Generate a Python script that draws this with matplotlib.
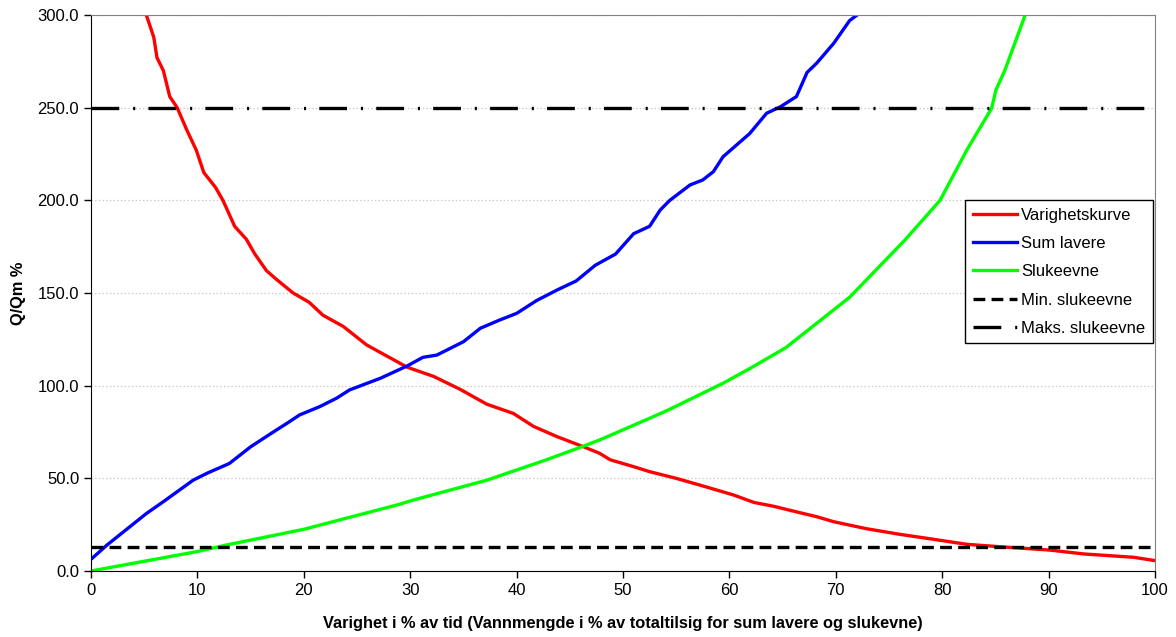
import matplotlib
matplotlib.use("Agg")
import matplotlib.pyplot as plt
from matplotlib.ticker import FormatStrFormatter

plt.rcParams["font.family"] = ["Liberation Sans", "DejaVu Sans"]
plt.rcParams["lines.scale_dashes"] = False

# ---- data -----------------------------------------------------------------
red_x = [5.2, 5.9, 6.2, 6.8, 7.4, 8.1, 9.0, 9.9, 10.6, 11.7, 12.4, 13.5, 14.6,
         15.4, 16.5, 17.5, 19.0, 20.5, 21.8, 23.7, 25.9, 27.8, 29.7, 32.2, 34.7,
         37.2, 39.7, 41.6, 43.8, 46.3, 47.8, 48.8, 51.0, 52.5, 55.0, 57.2, 60.4,
         62.3, 64.1, 66.6, 68.2, 69.8, 72.9, 76.0, 79.2, 82.3, 85.4, 90.1, 93.3,
         98.0, 100.0]
red_y = [300, 288, 277, 270, 256, 250, 238, 227, 215, 207, 200, 186, 179,
         171, 162, 157, 150, 145, 138, 132, 122, 116, 110, 105, 98,
         90, 85, 78, 72.5, 67, 63.5, 60, 56.3, 53.6, 50, 46.4, 41,
         37, 35, 31.5, 29.3, 26.6, 22.8, 19.8, 17.1, 14.4, 13.1, 11.3, 9.2,
         7.4, 5.6]

blue_x = [0, 1.5, 5.2, 6.8, 9.6, 11.0, 13.0, 15.0, 17.0, 18.5, 19.6, 21.5,
          23.1, 24.3, 27.2, 29.7, 31.2, 32.5, 35.0, 36.6, 38.4, 40.0, 41.9,
          43.8, 45.6, 47.4, 49.3, 51.0, 52.5, 53.5, 54.4, 56.3, 57.5, 58.5,
          59.4, 60.7, 61.9, 63.5, 64.8, 66.3, 67.3, 68.2, 69.8, 71.3, 72.0]
blue_y = [6.3, 14, 31, 37.4, 49, 53, 58, 67, 74.5, 80, 84.2, 88.7,
          93.3, 97.7, 104, 110.6, 115.3, 116.5, 123.7, 131, 135.4, 139, 146,
          151.6, 156.5, 165, 171, 182, 186, 194.8, 200, 208.3, 211, 215.5,
          223.5, 230, 236, 247, 250.5, 256, 269, 274, 284.7, 297, 300]

green_x = [0, 9.9, 12.7, 20.0, 29.0, 30.3, 37.2, 42.8, 46.3, 47.8, 52.5, 54.3,
           59.4, 62.0, 65.3, 71.3, 76.5, 79.8, 82.3, 84.65, 85.05, 85.9, 87.8]
green_y = [0, 10.4, 14, 22.5, 36, 38.3, 49, 60, 67.4, 70.7, 82.4, 87,
           101.3, 109.5, 120.5, 147.7, 178.6, 200, 227, 249.7, 259.5, 270.3, 300]

min_sluk = 13.2
maks_sluk = 250.0

labels = ["Varighetskurve", "Sum lavere", "Slukeevne",
          "Min. slukeevne", "Maks. slukeevne"]

# ---- figure ---------------------------------------------------------------
fig = plt.figure(figsize=(11.76, 6.37), dpi=100)
ax = fig.add_axes([91 / 1176, 1 - 571 / 637, 1064 / 1176, 556 / 637])

lw = 2.4
ax.plot(red_x, red_y, color="#ff0000", lw=lw, label=labels[0])
ax.plot(blue_x, blue_y, color="#0000ff", lw=lw, label=labels[1])
ax.plot(green_x, green_y, color="#00ff00", lw=lw, label=labels[2])
ax.axhline(min_sluk, color="black", lw=2.4, dashes=(8.5, 4.5), label=labels[3])
ax.axhline(maks_sluk, color="black", lw=2.4, dashes=(20, 10, 1.5, 9.5),
           label=labels[4])

ax.set_xlim(0, 100)
ax.set_ylim(0, 300)
ax.set_xticks(range(0, 101, 10))
ax.set_yticks(range(0, 301, 50))
ax.yaxis.set_major_formatter(FormatStrFormatter("%.1f"))
ax.grid(axis="y", color="#c8c8c8", linestyle=":", linewidth=0.9)
ax.set_axisbelow(True)

for s in ("top", "right"):
    ax.spines[s].set_color("#808080")
for s in ("left", "bottom"):
    ax.spines[s].set_color("black")
ax.tick_params(direction="out", length=5, width=1, labelsize=12, colors="black")

ax.set_xlabel("Varighet i % av tid (Vannmengde i % av totaltilsig for sum lavere og slukevne)",
              fontsize=11.8, fontweight="bold", labelpad=13)
fig.text(18 / 1176, 1 - 293 / 637, "Q/Qm %", rotation=90, ha="center",
         va="center", fontsize=11.8, fontweight="bold")

leg = ax.legend(loc="upper right", bbox_to_anchor=(0.998, 0.667),
                borderaxespad=0, fontsize=12, handlelength=2.65,
                handletextpad=0.25, labelspacing=0.8, fancybox=False,
                framealpha=1, edgecolor="black", borderpad=0.45)
leg.get_frame().set_linewidth(1.0)

fig.savefig("out.png", dpi=100)
